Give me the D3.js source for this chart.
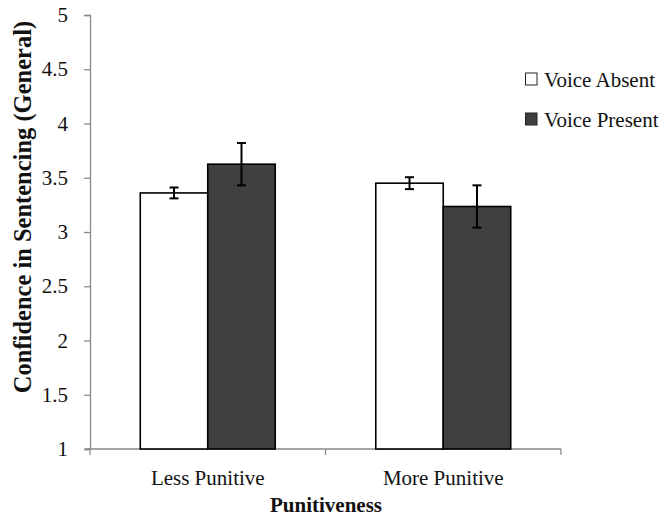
<!DOCTYPE html>
<html><head><meta charset="utf-8">
<script src="https://cdn.jsdelivr.net/npm/d3@7"></script>
<style>body{margin:0;background:#fff}</style>
</head><body>
<svg id="c" width="663" height="518"></svg>
<script>
const categories = ["Less Punitive", "More Punitive"];
const seriesNames = ["Voice Absent", "Voice Present"];
const voiceAbsent = [3.36, 3.45];
const voicePresent = [3.625, 3.235];
const errAbsent = [0.05, 0.055];
const errPresent = [0.195, 0.195];
const yTicks = [1, 1.5, 2, 2.5, 3, 3.5, 4, 4.5, 5];
const colors = ["#ffffff", "#404040"];

const svg = d3.select("#c");
const font = "'Liberation Serif','Times New Roman',serif";
const x0 = d3.scaleBand().domain(categories).range([90, 561]).paddingInner(0.427).paddingOuter(0.2135);
const x1 = d3.scaleBand().domain(seriesNames).range([0, x0.bandwidth()]);
const y = d3.scaleLinear().domain([1, 5]).range([449, 15]);

// y axis
const ya = svg.append("g").attr("transform", "translate(90,0)")
  .call(d3.axisLeft(y).tickValues(yTicks).tickFormat(d3.format("")).tickSize(6).tickPadding(16));
ya.select(".domain").attr("stroke", "#8a8a8a").attr("stroke-width", 1.3);
ya.selectAll(".tick line").attr("stroke", "#8a8a8a").attr("stroke-width", 1.3);
ya.selectAll("text").attr("font-family", font).attr("font-size", 21).attr("fill", "#111");

// x axis
const xa = svg.append("g").attr("transform", "translate(0,449)");
xa.append("line").attr("x1", 85).attr("x2", 561).attr("y1", 0).attr("y2", 0).attr("stroke", "#8a8a8a").attr("stroke-width", 1.3);
const bounds = [90, (x0(categories[0]) + x0.bandwidth() + x0(categories[1])) / 2, 561];
xa.selectAll(".xt").data(bounds).join("line").attr("x1", d => d).attr("x2", d => d)
  .attr("y1", 0).attr("y2", 6).attr("stroke", "#8a8a8a").attr("stroke-width", 1.3);
xa.selectAll(".xl").data(categories).join("text")
  .attr("x", d => x0(d) + x0.bandwidth() / 2).attr("y", 36)
  .attr("text-anchor", "middle").attr("font-family", font).attr("font-size", 21).attr("fill", "#111")
  .text(d => d);

// bars
const rows = [];
categories.forEach((c, i) => {
  rows.push({c, s: seriesNames[0], v: voiceAbsent[i], e: errAbsent[i], col: colors[0]});
  rows.push({c, s: seriesNames[1], v: voicePresent[i], e: errPresent[i], col: colors[1]});
});
svg.selectAll(".bar").data(rows).join("rect")
  .attr("x", d => x0(d.c) + x1(d.s)).attr("width", x1.bandwidth())
  .attr("y", d => y(d.v)).attr("height", d => y(1) - y(d.v))
  .attr("fill", d => d.col).attr("stroke", "#000").attr("stroke-width", 1.6);

// error bars
const eb = svg.selectAll(".eb").data(rows).join("g")
  .attr("transform", d => `translate(${x0(d.c) + x1(d.s) + x1.bandwidth() / 2},0)`);
eb.append("line").attr("x1", 0).attr("x2", 0).attr("y1", d => y(d.v + d.e)).attr("y2", d => y(d.v - d.e))
  .attr("stroke", "#000").attr("stroke-width", 2);
eb.append("line").attr("x1", -4.5).attr("x2", 4.5).attr("y1", d => y(d.v + d.e)).attr("y2", d => y(d.v + d.e))
  .attr("stroke", "#000").attr("stroke-width", 2);
eb.append("line").attr("x1", -4.5).attr("x2", 4.5).attr("y1", d => y(d.v - d.e)).attr("y2", d => y(d.v - d.e))
  .attr("stroke", "#000").attr("stroke-width", 2);

// legend
const lg = svg.selectAll(".lg").data(seriesNames).join("g")
  .attr("transform", (d, i) => `translate(525,${79 + i * 40})`);
lg.append("rect").attr("x", 0.5).attr("y", -6).attr("width", 11.5).attr("height", 12)
  .attr("fill", (d, i) => colors[i]).attr("stroke", "#222").attr("stroke-width", 1);
lg.append("text").attr("x", 19).attr("y", 7.5).attr("font-family", font).attr("font-size", 21).attr("fill", "#111").text(d => d);

// axis titles
svg.append("text").attr("transform", "translate(31,207) rotate(-90)").attr("text-anchor", "middle")
  .attr("font-family", font).attr("font-size", 24.5).attr("font-weight", "bold").attr("fill", "#111")
  .text("Confidence in Sentencing (General)");
svg.append("text").attr("x", 326).attr("y", 512).attr("text-anchor", "middle")
  .attr("font-family", font).attr("font-size", 21).attr("font-weight", "bold").attr("fill", "#111")
  .text("Punitiveness");
</script>
</body></html>
